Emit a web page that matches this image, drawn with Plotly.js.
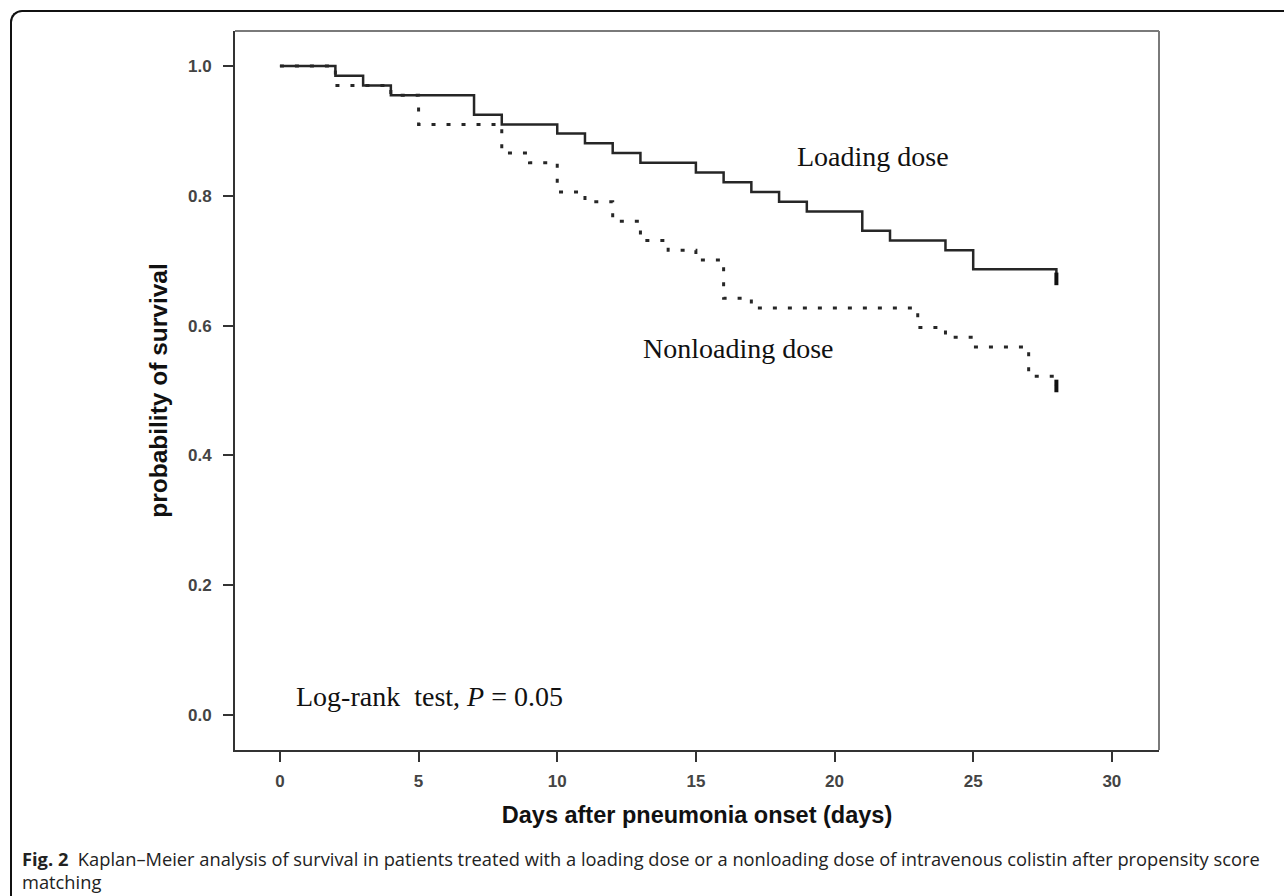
<!DOCTYPE html>
<html>
<head>
<meta charset="utf-8">
<script src="https://cdn.plot.ly/plotly-3.0.1.min.js"></script>
<style>
  html, body { margin: 0; padding: 0; background: #fff; }
  #wrap { position: relative; width: 1284px; height: 896px; overflow: hidden; }
  #chart { position: absolute; left: 0; top: 0; width: 1284px; height: 896px; }
  #frame { position: absolute; left: 10px; top: 10px; width: 1300px; height: 900px;
           border-top: 2px solid #111; border-left: 2px solid #111;
           border-top-left-radius: 12px; pointer-events: none; }
</style>
</head>
<body>
<div id="wrap">
  <div id="chart"></div>
  <div id="frame"></div>
</div>
<script>
// Loading dose group (solid): step times (days) and survival probability
const loadingDays = [0, 2, 3, 4, 7, 8, 10, 11, 12, 13, 15, 16, 17, 18, 19, 21, 22, 24, 25, 28];
const loadingSurv = [1.0, 0.985, 0.970, 0.955, 0.925, 0.910, 0.896, 0.881, 0.866, 0.851,
                     0.836, 0.821, 0.806, 0.791, 0.776, 0.746, 0.731, 0.716, 0.687, 0.672];
// Nonloading dose group (dotted)
const nonloadingDays = [0, 2, 4, 5, 8, 9, 10, 11, 12, 13, 14, 15, 16, 17, 23, 24, 25, 27, 28];
const nonloadingSurv = [1.0, 0.970, 0.955, 0.910, 0.866, 0.851, 0.806, 0.791, 0.761, 0.731,
                        0.716, 0.701, 0.642, 0.627, 0.597, 0.582, 0.567, 0.522, 0.507];
// Censoring at end of follow-up
const censorDays = [28, 28];
const censorSurv = [0.672, 0.507];

const xTicks = [0, 5, 10, 15, 20, 25, 30];
const yTicks = [0.0, 0.2, 0.4, 0.6, 0.8, 1.0];
const yTickText = ['0.0', '0.2', '0.4', '0.6', '0.8', '1.0'];

const lineColor = '#262626';

const traces = [
  {
    x: loadingDays, y: loadingSurv, type: 'scatter', mode: 'lines',
    line: { shape: 'hv', color: lineColor, width: 2.5 },
    hoverinfo: 'x+y', showlegend: false
  },
  {
    x: nonloadingDays, y: nonloadingSurv, type: 'scatter', mode: 'lines',
    line: { shape: 'hv', color: lineColor, width: 3, dash: '4px,11px' },
    hoverinfo: 'x+y', showlegend: false
  },
  {
    x: censorDays, y: censorSurv, type: 'scatter', mode: 'markers',
    marker: { symbol: 'line-ns', size: 9, line: { color: '#111', width: 4 } },
    hoverinfo: 'skip', showlegend: false
  }
];

const serif = 'Liberation Serif, Times New Roman, serif';
const sans = 'Liberation Sans, Arial, sans-serif';
const captionFont = 'Open Sans, Noto Sans, sans-serif';

const layout = {
  width: 1284, height: 896,
  margin: { l: 235, r: 125, t: 31, b: 146 },
  paper_bgcolor: '#ffffff', plot_bgcolor: '#ffffff',
  showlegend: false,
  xaxis: {
    range: [-1.62, 31.70], tickvals: xTicks, ticktext: xTicks.map(String),
    showgrid: false, zeroline: false,
    showline: true, linecolor: '#333', linewidth: 2,
    ticks: 'outside', ticklen: 10, tickwidth: 2, tickcolor: '#333',
    tickfont: { family: sans, size: 17, color: '#444', weight: 'bold' },
    ticklabelstandoff: 5,
    title: { text: '<b>Days after pneumonia onset (days)</b>', standoff: 16,
             font: { family: sans, size: 23.5, color: '#111' } },
    automargin: false
  },
  yaxis: {
    range: [-0.054, 1.054], tickvals: yTicks, ticktext: yTickText,
    showgrid: false, zeroline: false,
    showline: true, linecolor: '#333', linewidth: 2,
    ticks: 'outside', ticklen: 10, tickwidth: 2, tickcolor: '#333',
    tickfont: { family: sans, size: 17, color: '#444', weight: 'bold' },
    ticklabelstandoff: 8,
    title: { text: '<b>probability of survival</b>', standoff: 13,
             font: { family: sans, size: 24.5, color: '#111' } },
    automargin: false
  },
  shapes: [
    { type: 'line', xref: 'paper', yref: 'paper', x0: 0, x1: 1, y0: 1, y1: 1,
      line: { color: '#7a7a7a', width: 2 } },
    { type: 'line', xref: 'paper', yref: 'paper', x0: 1, x1: 1, y0: 0, y1: 1,
      line: { color: '#7a7a7a', width: 2 } }
  ],
  annotations: [
    { x: 21.38, y: 0.861, xref: 'x', yref: 'y', text: 'Loading dose', showarrow: false,
      xanchor: 'center', yanchor: 'middle', font: { family: serif, size: 28, color: '#111' } },
    { x: 16.55, y: 0.565, xref: 'x', yref: 'y', text: 'Nonloading dose', showarrow: false,
      xanchor: 'center', yanchor: 'middle', font: { family: serif, size: 28, color: '#111' } },
    { x: 5.41, y: 0.028, xref: 'x', yref: 'y', text: 'Log-rank  test, <i>P</i> = 0.05', showarrow: false,
      xanchor: 'center', yanchor: 'middle', font: { family: serif, size: 28, color: '#111' } },
    { x: (20 - 235) / 924, y: (750 - 858) / 719, xref: 'paper', yref: 'paper',
      text: '<b>Fig. 2</b>  Kaplan–Meier analysis of survival in patients treated with a loading dose or a nonloading dose of intravenous colistin after propensity score',
      showarrow: false, xanchor: 'left', yanchor: 'middle', align: 'left',
      font: { family: captionFont, size: 18.3, color: '#222' } },
    { x: (20 - 235) / 924, y: (750 - 881) / 719, xref: 'paper', yref: 'paper',
      text: 'matching',
      showarrow: false, xanchor: 'left', yanchor: 'middle', align: 'left',
      font: { family: captionFont, size: 18.3, color: '#222' } }
  ]
};

Plotly.newPlot('chart', traces, layout, { displayModeBar: false, staticPlot: true });
</script>
</body>
</html>
